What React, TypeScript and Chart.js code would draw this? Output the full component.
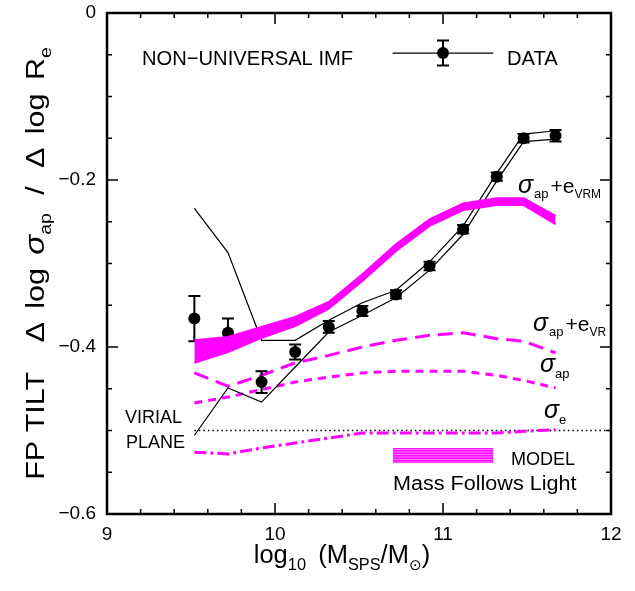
import React, { useEffect, useRef } from "react";
import { Chart, registerables } from "chart.js";

Chart.register(...registerables);

// ---------- data ----------
const massBins = [9.52, 9.72, 9.92, 10.12, 10.32, 10.52, 10.72, 10.92, 11.12, 11.32, 11.48, 11.67];
const dataTilt = [-0.366, -0.383, -0.442, -0.406, -0.376, -0.357, -0.337, -0.303, -0.259, -0.196, -0.150, -0.147];
const dataErr = [0.027, 0.017, 0.013, 0.009, 0.007, 0.006, 0.005, 0.005, 0.005, 0.005, 0.005, 0.007];
const dataUpper = [-0.234, -0.287, -0.392, -0.392, -0.368, -0.347, -0.332, -0.298, -0.255, -0.192, -0.145, -0.141];
const dataLower = [-0.506, -0.449, -0.466, -0.424, -0.382, -0.362, -0.341, -0.308, -0.265, -0.201, -0.154, -0.151];
const vrmUpper = [-0.392, -0.388, -0.376, -0.364, -0.346, -0.313, -0.277, -0.247, -0.228, -0.222, -0.222, -0.243];
const vrmLower = [-0.419, -0.406, -0.389, -0.375, -0.354, -0.321, -0.285, -0.255, -0.236, -0.230, -0.230, -0.253];
const vrTilt = [-0.431, -0.447, -0.434, -0.419, -0.410, -0.400, -0.392, -0.386, -0.383, -0.390, -0.393, -0.407];
const apTilt = [-0.467, -0.460, -0.451, -0.442, -0.436, -0.431, -0.429, -0.429, -0.429, -0.434, -0.440, -0.449];
const eTilt = [-0.526, -0.528, -0.521, -0.515, -0.509, -0.503, -0.503, -0.503, -0.503, -0.503, -0.501, -0.499];
const virialX = [9.52, 12];
const virialY = [-0.5, -0.5];

const xTickValues = [9, 10, 11, 12];
const xTickLabels = ["9", "10", "11", "12"];
const yTickValues = [0, -0.2, -0.4, -0.6];
const yTickLabels = ["0", "\u22120.2", "\u22120.4", "\u22120.6"];

const MAGENTA = "#ff00ff";
const FAM = '"Liberation Sans", "DejaVu Sans", Arial, sans-serif';

type Seg = { t: string; size: number; dy?: number; italic?: boolean; gap?: number };

function segFont(s: Seg) {
  return `${s.italic ? "italic " : ""}${s.size}px ${FAM}`;
}

function drawSegs(
  ctx: CanvasRenderingContext2D,
  segs: Seg[],
  x: number,
  y: number,
  align: "left" | "center",
  stretch = 1
) {
  const widths = segs.map((s) => {
    ctx.font = segFont(s);
    return ctx.measureText(s.t).width + (s.gap || 0);
  });
  const total = widths.reduce((a, b) => a + b, 0) * stretch;
  const x0 = align === "center" ? x - total / 2 : x;
  ctx.save();
  ctx.translate(x0, y);
  ctx.scale(stretch, 1);
  ctx.textAlign = "left";
  ctx.textBaseline = "alphabetic";
  let cx = 0;
  segs.forEach((s, i) => {
    ctx.font = segFont(s);
    ctx.fillText(s.t, cx, s.dy || 0);
    cx += widths[i];
  });
  ctx.restore();
}

const pts = (xs: number[], ys: number[]) => xs.map((x, i) => ({ x, y: ys[i] }));

const decorPlugin = {
  id: "decor",
  afterDatasetDraw(chart: any, args: any) {
    if (args.meta.label !== "DATA") return;
    const { ctx, scales } = chart;
    const x = scales.x, y = scales.y;
    ctx.save();
    ctx.strokeStyle = "#000";
    ctx.lineWidth = 2;
    massBins.forEach((m, i) => {
      const px = x.getPixelForValue(m);
      const t = y.getPixelForValue(dataTilt[i] + dataErr[i]);
      const b = y.getPixelForValue(dataTilt[i] - dataErr[i]);
      ctx.beginPath();
      ctx.moveTo(px, t); ctx.lineTo(px, b);
      ctx.moveTo(px - 6, t); ctx.lineTo(px + 6, t);
      ctx.moveTo(px - 6, b); ctx.lineTo(px + 6, b);
      ctx.stroke();
    });
    ctx.restore();
  },
  afterDraw(chart: any) {
    const { ctx, chartArea: a, scales } = chart;
    const x = scales.x, y = scales.y;
    const X = (v: number) => x.getPixelForValue(v);
    const Y = (v: number) => y.getPixelForValue(v);
    ctx.save();
    ctx.fillStyle = "#000";
    ctx.strokeStyle = "#000";

    // ticks (inward)
    ctx.lineWidth = 1.5;
    ctx.beginPath();
    for (let k = 0; k <= 15; k++) {
      const v = 9 + k * 0.2;
      const px = X(v);
      const len = k % 5 === 0 ? 11 : 5;
      ctx.moveTo(px, a.bottom); ctx.lineTo(px, a.bottom - len);
      ctx.moveTo(px, a.top); ctx.lineTo(px, a.top + len);
    }
    for (let k = 0; k <= 12; k++) {
      const v = -k * 0.05;
      const py = Y(v);
      const len = k % 4 === 0 ? 11 : 5;
      ctx.moveTo(a.left, py); ctx.lineTo(a.left + len, py);
      ctx.moveTo(a.right, py); ctx.lineTo(a.right - len, py);
    }
    ctx.stroke();

    // frame
    ctx.lineWidth = 2.5;
    ctx.strokeRect(a.left, a.top, a.right - a.left, a.bottom - a.top);

    // tick labels
    ctx.font = `19px ${FAM}`;
    ctx.textAlign = "center";
    ctx.textBaseline = "alphabetic";
    xTickValues.forEach((v, i) => ctx.fillText(xTickLabels[i], X(v), a.bottom + 26));
    ctx.textAlign = "right";
    ctx.textBaseline = "middle";
    yTickValues.forEach((v, i) => ctx.fillText(yTickLabels[i], a.left - 11, Y(v)));

    // x title
    drawSegs(ctx, [
      { t: "log", size: 25 },
      { t: "10", size: 16, dy: 7, gap: 12 },
      { t: "(M", size: 25 },
      { t: "SPS", size: 16, dy: 7 },
      { t: "/M", size: 25 },
      { t: "\u2299", size: 15, dy: 7 },
      { t: ")", size: 25 },
    ], (a.left + a.right) / 2 - 17, a.bottom + 49, "center", 1.02);

    // y title (rotated)
    ctx.save();
    ctx.translate(44, (a.top + a.bottom) / 2);
    ctx.rotate(-Math.PI / 2);
    drawSegs(ctx, [
      { t: "FP TILT", size: 25, gap: 24 },
      { t: "\u0394", size: 25, gap: 11 },
      { t: "log", size: 25, gap: 11 },
      { t: "\u03c3", size: 27, italic: true },
      { t: "ap", size: 16, dy: 7, gap: 15 },
      { t: "/", size: 25, gap: 15 },
      { t: "\u0394", size: 25, gap: 11 },
      { t: "log", size: 25, gap: 11 },
      { t: "R", size: 25 },
      { t: "e", size: 16, dy: 7 },
    ], 0, 0, "center", 1.22);
    ctx.restore();

    // legend top
    drawSegs(ctx, [{ t: "NON\u2212UNIVERSAL IMF", size: 21 }], X(9.208), Y(-0.062), "left", 0.96);
    drawSegs(ctx, [{ t: "DATA", size: 21 }], X(11.381), Y(-0.062), "left", 0.96);
    const ly = Y(-0.048);
    ctx.lineWidth = 1.2;
    ctx.beginPath();
    ctx.moveTo(X(10.70), ly); ctx.lineTo(X(11.30), ly);
    ctx.stroke();
    ctx.lineWidth = 2;
    const lx = X(11.0);
    const et = Y(-0.033), eb = Y(-0.063);
    ctx.beginPath();
    ctx.moveTo(lx, et); ctx.lineTo(lx, eb);
    ctx.moveTo(lx - 6, et); ctx.lineTo(lx + 6, et);
    ctx.moveTo(lx - 6, eb); ctx.lineTo(lx + 6, eb);
    ctx.stroke();
    ctx.beginPath();
    ctx.arc(lx, ly, 6, 0, Math.PI * 2);
    ctx.fill();

    // curve labels
    drawSegs(ctx, [
      { t: "\u03c3", size: 25, italic: true, gap: 1 },
      { t: "ap", size: 13, dy: 5, gap: 2 },
      { t: "+e", size: 21 },
      { t: "VRM", size: 12, dy: 5 },
    ], X(11.446), Y(-0.2156), "left");
    drawSegs(ctx, [
      { t: "\u03c3", size: 25, italic: true, gap: 1 },
      { t: "ap", size: 13, dy: 5, gap: 2 },
      { t: "+e", size: 21 },
      { t: "VR", size: 12, dy: 5 },
    ], X(11.536), Y(-0.381), "left");
    drawSegs(ctx, [
      { t: "\u03c3", size: 25, italic: true },
      { t: "ap", size: 13, dy: 6 },
    ], X(11.577), Y(-0.430), "left");
    drawSegs(ctx, [
      { t: "\u03c3", size: 25, italic: true },
      { t: "e", size: 13, dy: 6 },
    ], X(11.601), Y(-0.485), "left");

    drawSegs(ctx, [{ t: "VIRIAL", size: 18 }], X(9.107), Y(-0.491), "left");
    drawSegs(ctx, [{ t: "PLANE", size: 18 }], X(9.113), Y(-0.521), "left");

    // model legend
    const rx0 = X(10.702), rx1 = X(11.298), ry0 = Y(-0.521), ry1 = Y(-0.539);
    ctx.fillStyle = MAGENTA;
    ctx.fillRect(rx0, ry0, rx1 - rx0, ry1 - ry0);
    ctx.strokeStyle = "#ff80ff";
    ctx.lineWidth = 1;
    ctx.beginPath();
    for (let yy = ry0 + 1.5; yy < ry1; yy += 2.5) {
      ctx.moveTo(rx0, yy); ctx.lineTo(rx1, yy);
    }
    ctx.stroke();
    ctx.fillStyle = "#000";
    drawSegs(ctx, [{ t: "MODEL", size: 18 }], X(11.405), Y(-0.541), "left");
    drawSegs(ctx, [{ t: "Mass Follows Light", size: 20 }], X(10.702), Y(-0.571), "left", 1.08);
    ctx.restore();
  },
};

export default function App() {
  const ref = useRef<HTMLCanvasElement | null>(null);
  useEffect(() => {
    document.body.style.margin = "0";
    const canvas = ref.current!;
    const chart = new Chart(canvas, {
      type: "line",
      data: {
        datasets: [
          {
            label: "VRM upper",
            data: pts(massBins, vrmUpper),
            borderColor: MAGENTA,
            backgroundColor: MAGENTA,
            borderWidth: 2,
            fill: "+1",
            pointRadius: 0,
            order: 0,
          },
          {
            label: "VRM lower",
            data: pts(massBins, vrmLower),
            borderColor: MAGENTA,
            borderWidth: 2,
            fill: false,
            pointRadius: 0,
            order: 0,
          },
          {
            label: "DATA",
            data: pts(massBins, dataTilt),
            showLine: false,
            pointRadius: 6,
            pointBackgroundColor: "#000",
            pointBorderWidth: 0,
            borderColor: "#000",
            order: 1,
          },
          {
            label: "data upper",
            data: pts(massBins, dataUpper),
            borderColor: "#000",
            borderWidth: 1.2,
            pointRadius: 0,
            fill: false,
            order: 2,
          },
          {
            label: "data lower",
            data: pts(massBins, dataLower),
            borderColor: "#000",
            borderWidth: 1.2,
            pointRadius: 0,
            fill: false,
            order: 2,
          },
          {
            label: "sigma_ap + e_VR",
            data: pts(massBins, vrTilt),
            borderColor: MAGENTA,
            borderWidth: 3,
            borderDash: [15, 8],
            pointRadius: 0,
            fill: false,
            order: 3,
          },
          {
            label: "sigma_ap",
            data: pts(massBins, apTilt),
            borderColor: MAGENTA,
            borderWidth: 3,
            borderDash: [8, 6],
            pointRadius: 0,
            fill: false,
            order: 3,
          },
          {
            label: "sigma_e",
            data: pts(massBins, eTilt),
            borderColor: MAGENTA,
            borderWidth: 3,
            borderDash: [12, 4, 3, 4],
            pointRadius: 0,
            fill: false,
            order: 3,
          },
          {
            label: "virial plane",
            data: pts(virialX, virialY),
            borderColor: "#000",
            borderWidth: 1.5,
            borderDash: [1.5, 3],
            pointRadius: 0,
            fill: false,
            order: 4,
          },
        ],
      },
      options: {
        responsive: false,
        animation: false,
        layout: { padding: { left: 107, right: 24, top: 13, bottom: 77 } },
        plugins: { legend: { display: false }, tooltip: { enabled: false } },
        elements: { line: { tension: 0 } },
        scales: {
          x: { type: "linear", min: 9, max: 12, display: false },
          y: { type: "linear", min: -0.6, max: 0, display: false },
        },
      },
      plugins: [decorPlugin],
    });
    return () => chart.destroy();
  }, []);
  return (
    <div style={{ position: "absolute", left: 0, top: 0, width: 635, height: 591, background: "#fff" }}>
      <canvas ref={ref} width={635} height={591} style={{ display: "block" }} />
    </div>
  );
}
